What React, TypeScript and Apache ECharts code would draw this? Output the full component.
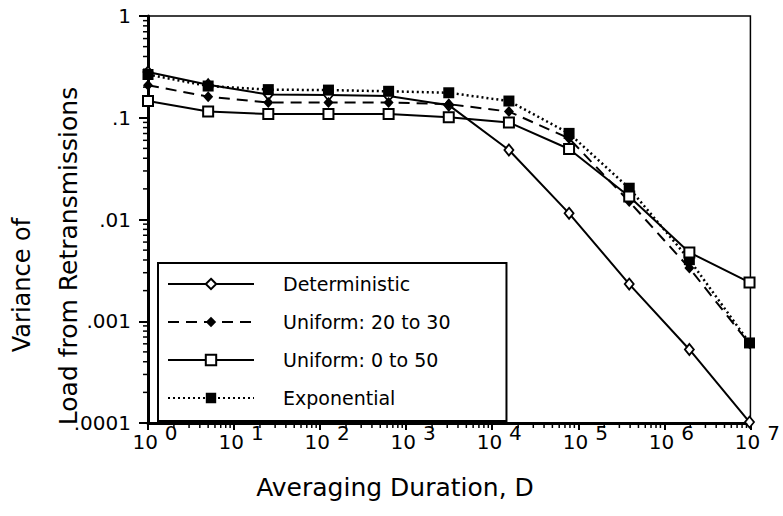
import React, { useEffect, useRef } from 'react';
import * as echarts from 'echarts';

// Averaging duration D (powers of 5, 5^0 .. 5^10)
const durations = [1, 5, 25, 125, 625, 3125, 15625, 78125, 390625, 1953125, 9765625];

const deterministic = [0.282, 0.211, 0.169, 0.167, 0.164, 0.133, 0.0482, 0.0115, 0.00232, 0.000528, 0.000102];
const uniform2030 = [0.209, 0.161, 0.141, 0.141, 0.141, 0.136, 0.115, 0.0627, 0.015, 0.00333, 0.0006];
const uniform050 = [0.146, 0.115, 0.109, 0.109, 0.109, 0.101, 0.09, 0.0493, 0.0168, 0.00475, 0.00241];
const exponential = [0.266, 0.205, 0.189, 0.187, 0.182, 0.176, 0.146, 0.0702, 0.0203, 0.00403, 0.000612];

const seriesNames = ['Deterministic', 'Uniform: 20 to 30', 'Uniform: 0 to 50', 'Exponential'];

const yTickLabels: Record<string, string> = { '0': '1', '-1': '.1', '-2': '.01', '-3': '.001', '-4': '.0001' };
const xDecades = [0, 1, 2, 3, 4, 5, 6, 7];
const yDecades = [-4, -3, -2, -1];
const minorSteps = [2, 3, 4, 5, 6, 7, 8, 9];

const FONT = 'DejaVu Sans';

export default function App() {
  const ref = useRef<HTMLDivElement>(null);
  useEffect(() => {
    if (!ref.current) return;
    const chart = echarts.init(ref.current, null, { renderer: 'svg' });
    const pair = (ys: number[]) => durations.map((d, i) => [d, ys[i]]);
    const xMinor: number[][] = [];
    xDecades.slice(0, -1).forEach((e) => minorSteps.forEach((m) => xMinor.push([m * Math.pow(10, e), 1e-4])));
    const yMinor: number[][] = [];
    yDecades.forEach((e) => minorSteps.forEach((m) => yMinor.push([1, m * Math.pow(10, e)])));

    const option: any = {
      animation: false,
      backgroundColor: '#fff',
      grid: {
        left: 148,
        right: 25,
        top: 16,
        bottom: 93,
        show: true,
        borderColor: '#000',
        borderWidth: 1.5,
        backgroundColor: 'transparent',
      },
      xAxis: {
        type: 'log',
        logBase: 10,
        min: 1,
        max: 1e7,
        axisLine: { show: true, lineStyle: { color: '#000', width: 3 } },
        axisTick: { show: true, inside: false, length: 7, lineStyle: { color: '#000', width: 2 } },
        splitLine: { show: false },
        minorTick: { show: false },
        axisLabel: {
          margin: 0,
          color: '#000',
          fontFamily: FONT,
          formatter: (v: number) => `{p| }{b|10}{g| }{s|${Math.round(Math.log10(v))}}`,
          rich: {
            p: { width: 14, fontSize: 20, height: 28, lineHeight: 28, verticalAlign: 'bottom' },
            b: { fontSize: 20, fontFamily: FONT, color: '#000', height: 18, lineHeight: 18, verticalAlign: 'bottom' },
            g: { width: 7, fontSize: 20, height: 18, lineHeight: 18, verticalAlign: 'bottom' },
            s: { fontSize: 20, fontFamily: FONT, color: '#000', height: 20, lineHeight: 20, verticalAlign: 'top' },
          },
        },
      },
      yAxis: {
        type: 'log',
        logBase: 10,
        min: 1e-4,
        max: 1,
        axisLine: { show: true, lineStyle: { color: '#000', width: 3 } },
        axisTick: { show: true, inside: false, length: 9, lineStyle: { color: '#000', width: 2 } },
        splitLine: { show: false },
        axisLabel: {
          margin: 17,
          color: '#000',
          fontFamily: FONT,
          fontSize: 20,
          formatter: (v: number) => yTickLabels[String(Math.round(Math.log10(v)))] ?? '',
        },
      },
      legend: {
        orient: 'vertical',
        left: 158,
        top: 263,
        data: seriesNames,
        selectedMode: false,
        itemWidth: 86,
        itemHeight: 13,
        itemGap: 16,
        padding: [10, 56, 12, 9],
        borderColor: '#000',
        borderWidth: 2,
        borderRadius: 0,
        backgroundColor: '#fff',
        textStyle: { fontFamily: FONT, fontSize: 19, color: '#000', lineHeight: 22, padding: [0, 0, 0, 24] },
      },
      graphic: [
        {
          type: 'text',
          x: 22,
          y: 285,
          rotation: Math.PI / 2,
          style: { text: 'Variance of', fontFamily: FONT, fontSize: 24, fill: '#000', align: 'center', verticalAlign: 'middle' },
        },
        {
          type: 'text',
          x: 68,
          y: 256,
          rotation: Math.PI / 2,
          style: { text: 'Load from Retransmissions', fontFamily: FONT, fontSize: 25, fill: '#000', align: 'center', verticalAlign: 'middle' },
        },
        {
          type: 'text',
          x: 395,
          y: 487,
          style: { text: 'Averaging Duration, D', fontFamily: FONT, fontSize: 25, fill: '#000', align: 'center', verticalAlign: 'middle' },
        },
      ],
      series: [
        {
          name: seriesNames[0],
          type: 'line',
          data: pair(deterministic),
          clip: false,
          symbol: 'diamond',
          symbolSize: [9, 11],
          lineStyle: { color: '#000', width: 2, type: 'solid' },
          itemStyle: { color: '#fff', borderColor: '#000', borderWidth: 1.8 },
          z: 3,
        },
        {
          name: seriesNames[1],
          type: 'line',
          data: pair(uniform2030),
          clip: false,
          symbol: 'diamond',
          symbolSize: [10, 11],
          lineStyle: { color: '#000', width: 2, type: [11, 7] },
          itemStyle: { color: '#000', borderColor: '#000', borderWidth: 0 },
          z: 4,
        },
        {
          name: seriesNames[3],
          type: 'line',
          data: pair(exponential),
          clip: false,
          symbol: 'rect',
          symbolSize: 11,
          lineStyle: { color: '#000', width: 2.5, type: [2, 3] },
          itemStyle: { color: '#000', borderColor: '#000', borderWidth: 0 },
          z: 5,
        },
        {
          name: seriesNames[2],
          type: 'line',
          data: pair(uniform050),
          clip: false,
          symbol: 'rect',
          symbolSize: 10,
          lineStyle: { color: '#000', width: 2, type: 'solid' },
          itemStyle: { color: '#fff', borderColor: '#000', borderWidth: 2 },
          z: 6,
        },
        {
          type: 'custom',
          silent: true,
          clip: false,
          data: xMinor,
          z: 7,
          renderItem: (_p: any, api: any) => {
            const pt = api.coord([api.value(0), api.value(1)]);
            return {
              type: 'line',
              shape: { x1: pt[0], y1: pt[1], x2: pt[0], y2: pt[1] + 5 },
              style: { stroke: '#000', lineWidth: 1.5 },
            };
          },
        },
        {
          type: 'custom',
          silent: true,
          clip: false,
          data: yMinor,
          z: 7,
          renderItem: (_p: any, api: any) => {
            const pt = api.coord([api.value(0), api.value(1)]);
            return {
              type: 'line',
              shape: { x1: pt[0] - 5, y1: pt[1], x2: pt[0], y2: pt[1] },
              style: { stroke: '#000', lineWidth: 1.5 },
            };
          },
        },
      ],
    };
    chart.setOption(option);
    return () => chart.dispose();
  }, []);
  return <div ref={ref} style={{ width: 783, height: 516, position: 'absolute', left: 0, top: 0 }} />;
}
